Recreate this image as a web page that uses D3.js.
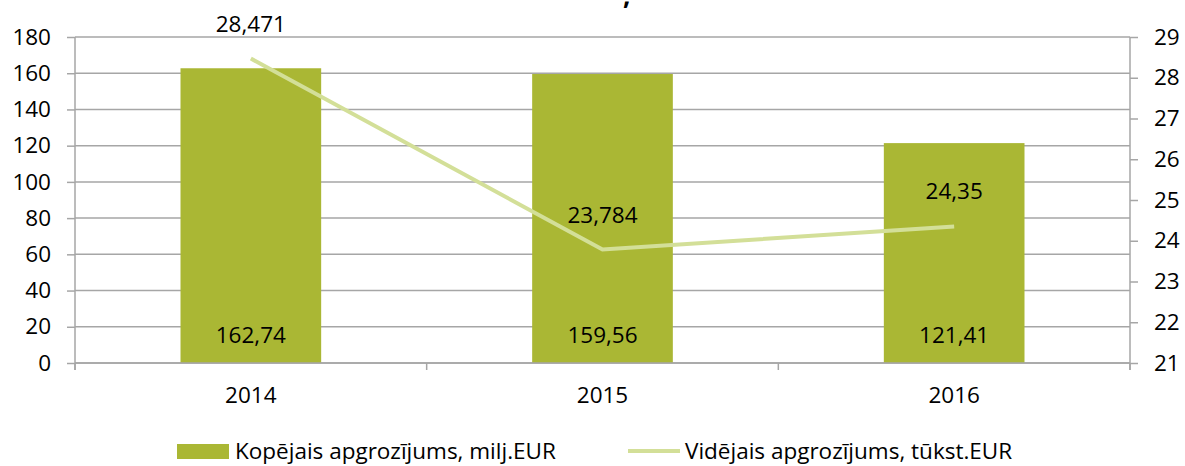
<!DOCTYPE html>
<html>
<head>
<meta charset="utf-8">
<script src="https://cdn.jsdelivr.net/npm/d3@7"></script>
<style>
  body { margin: 0; background: #fff; }
  text { font-family: "Open Sans", sans-serif; fill: #000; }
</style>
</head>
<body>
<div class="chart"></div>
<script>
// data
const years = ["2014", "2015", "2016"];
const totalTurnover = [162.74, 159.56, 121.41];     // milj.EUR, left axis
const avgTurnover = [28.471, 23.784, 24.35];         // tūkst.EUR, right axis
const leftTicks = [0, 20, 40, 60, 80, 100, 120, 140, 160, 180];
const rightTicks = [21, 22, 23, 24, 25, 26, 27, 28, 29];
const seriesNames = ["Kopējais apgrozījums, milj.EUR", "Vidējais apgrozījums, tūkst.EUR"];

const width = 1185, height = 466;
const margin = {top: 37, right: 55, bottom: 103, left: 75};
const barColor = "#aab734";
const lineColor = "#d3df98";
const gridColor = "#a6a6a6";
const fontSize = "22.5px";

const fmt = v => String(v).replace(".", ",");

const svg = d3.select(".chart").append("svg")
  .attr("width", width)
  .attr("height", height);

const x = d3.scaleBand().domain(years)
  .range([margin.left, width - margin.right])
  .paddingInner(0.6).paddingOuter(0.3);
const xc = d => x(d) + x.bandwidth() / 2;
const yL = d3.scaleLinear().domain([0, 180]).range([height - margin.bottom, margin.top]);
const yR = d3.scaleLinear().domain([21, 29]).range([height - margin.bottom, margin.top]);

// gridlines
svg.append("g")
  .selectAll("line").data(leftTicks).enter().append("line")
  .attr("x1", margin.left).attr("x2", width - margin.right)
  .attr("y1", d => yL(d)).attr("y2", d => yL(d))
  .attr("stroke", gridColor).attr("stroke-width", 1.5);

// bars
svg.append("g").selectAll("rect")
  .data(totalTurnover).enter().append("rect")
  .attr("x", (d, i) => x(years[i]))
  .attr("width", x.bandwidth())
  .attr("y", d => yL(d))
  .attr("height", d => yL(0) - yL(d))
  .attr("fill", barColor);

// left + right axes
const axL = svg.append("g")
  .attr("transform", "translate(" + margin.left + ",0)")
  .call(d3.axisLeft(yL).tickValues(leftTicks).tickSize(8).tickPadding(16));
const axR = svg.append("g")
  .attr("transform", "translate(" + (width - margin.right) + ",0)")
  .call(d3.axisRight(yR).tickValues(rightTicks).tickSize(8).tickPadding(16));

// bottom axis
const xEdges = [margin.left].concat(years.map((y, i) => i < years.length - 1 ? (x(y) + x.bandwidth() + x(years[i + 1])) / 2 : width - margin.right));
const axB = svg.append("g")
  .attr("transform", "translate(0," + yL(0) + ")");
axB.append("line")
  .attr("x1", margin.left).attr("x2", width - margin.right)
  .attr("stroke", gridColor).attr("stroke-width", 1.5);
axB.selectAll(".tk").data(xEdges).enter().append("line")
  .attr("x1", d => d).attr("x2", d => d).attr("y1", 0).attr("y2", 7)
  .attr("stroke", gridColor).attr("stroke-width", 1.5);
axB.selectAll("text").data(years).enter().append("text")
  .attr("x", d => xc(d)).attr("y", 40)
  .attr("text-anchor", "middle")
  .style("font-size", fontSize)
  .text(d => d);

[axL, axR].forEach(ax => {
  ax.select(".domain").remove();
  ax.selectAll(".tick line").attr("stroke", gridColor).attr("stroke-width", 1.5);
  ax.selectAll(".tick text").style("font-size", fontSize).style("font-family", "'Open Sans', sans-serif").attr("fill", "#000");
});
// vertical axis lines
svg.append("line")
  .attr("x1", margin.left).attr("x2", margin.left)
  .attr("y1", margin.top).attr("y2", yL(0) + 7)
  .attr("stroke", gridColor).attr("stroke-width", 1.5);
svg.append("line")
  .attr("x1", width - margin.right).attr("x2", width - margin.right)
  .attr("y1", margin.top).attr("y2", yL(0) + 7)
  .attr("stroke", gridColor).attr("stroke-width", 1.5);

// line series
const line = d3.line()
  .x((d, i) => xc(years[i]))
  .y(d => yR(d));
svg.append("path")
  .datum(avgTurnover)
  .attr("d", line)
  .attr("fill", "none")
  .attr("stroke", lineColor)
  .attr("stroke-width", 4);

// bar labels
svg.append("g").selectAll("text")
  .data(totalTurnover).enter().append("text")
  .attr("x", (d, i) => xc(years[i]))
  .attr("y", yL(0) - 20)
  .attr("text-anchor", "middle")
  .style("font-size", fontSize)
  .text(d => fmt(d));

// line labels
svg.append("g").selectAll("text")
  .data(avgTurnover).enter().append("text")
  .attr("x", (d, i) => xc(years[i]))
  .attr("y", d => yR(d) - 27)
  .attr("text-anchor", "middle")
  .style("font-size", fontSize)
  .text(d => fmt(d));

// title, cut off at the top edge (only its comma shows)
svg.append("text")
  .attr("x", 623).attr("y", 5)
  .style("font-size", "26px").style("font-weight", "bold")
  .text(",");

// legend
const lg = svg.append("g");
lg.append("rect")
  .attr("x", 177).attr("y", 444).attr("width", 52).attr("height", 15)
  .attr("fill", barColor);
lg.append("text")
  .attr("x", 235).attr("y", 459)
  .style("font-size", fontSize)
  .text(seriesNames[0]);
lg.append("line")
  .attr("x1", 628).attr("x2", 680).attr("y1", 451).attr("y2", 451)
  .attr("stroke", lineColor).attr("stroke-width", 4);
lg.append("text")
  .attr("x", 685).attr("y", 459)
  .style("font-size", fontSize)
  .text(seriesNames[1]);
</script>
</body>
</html>
